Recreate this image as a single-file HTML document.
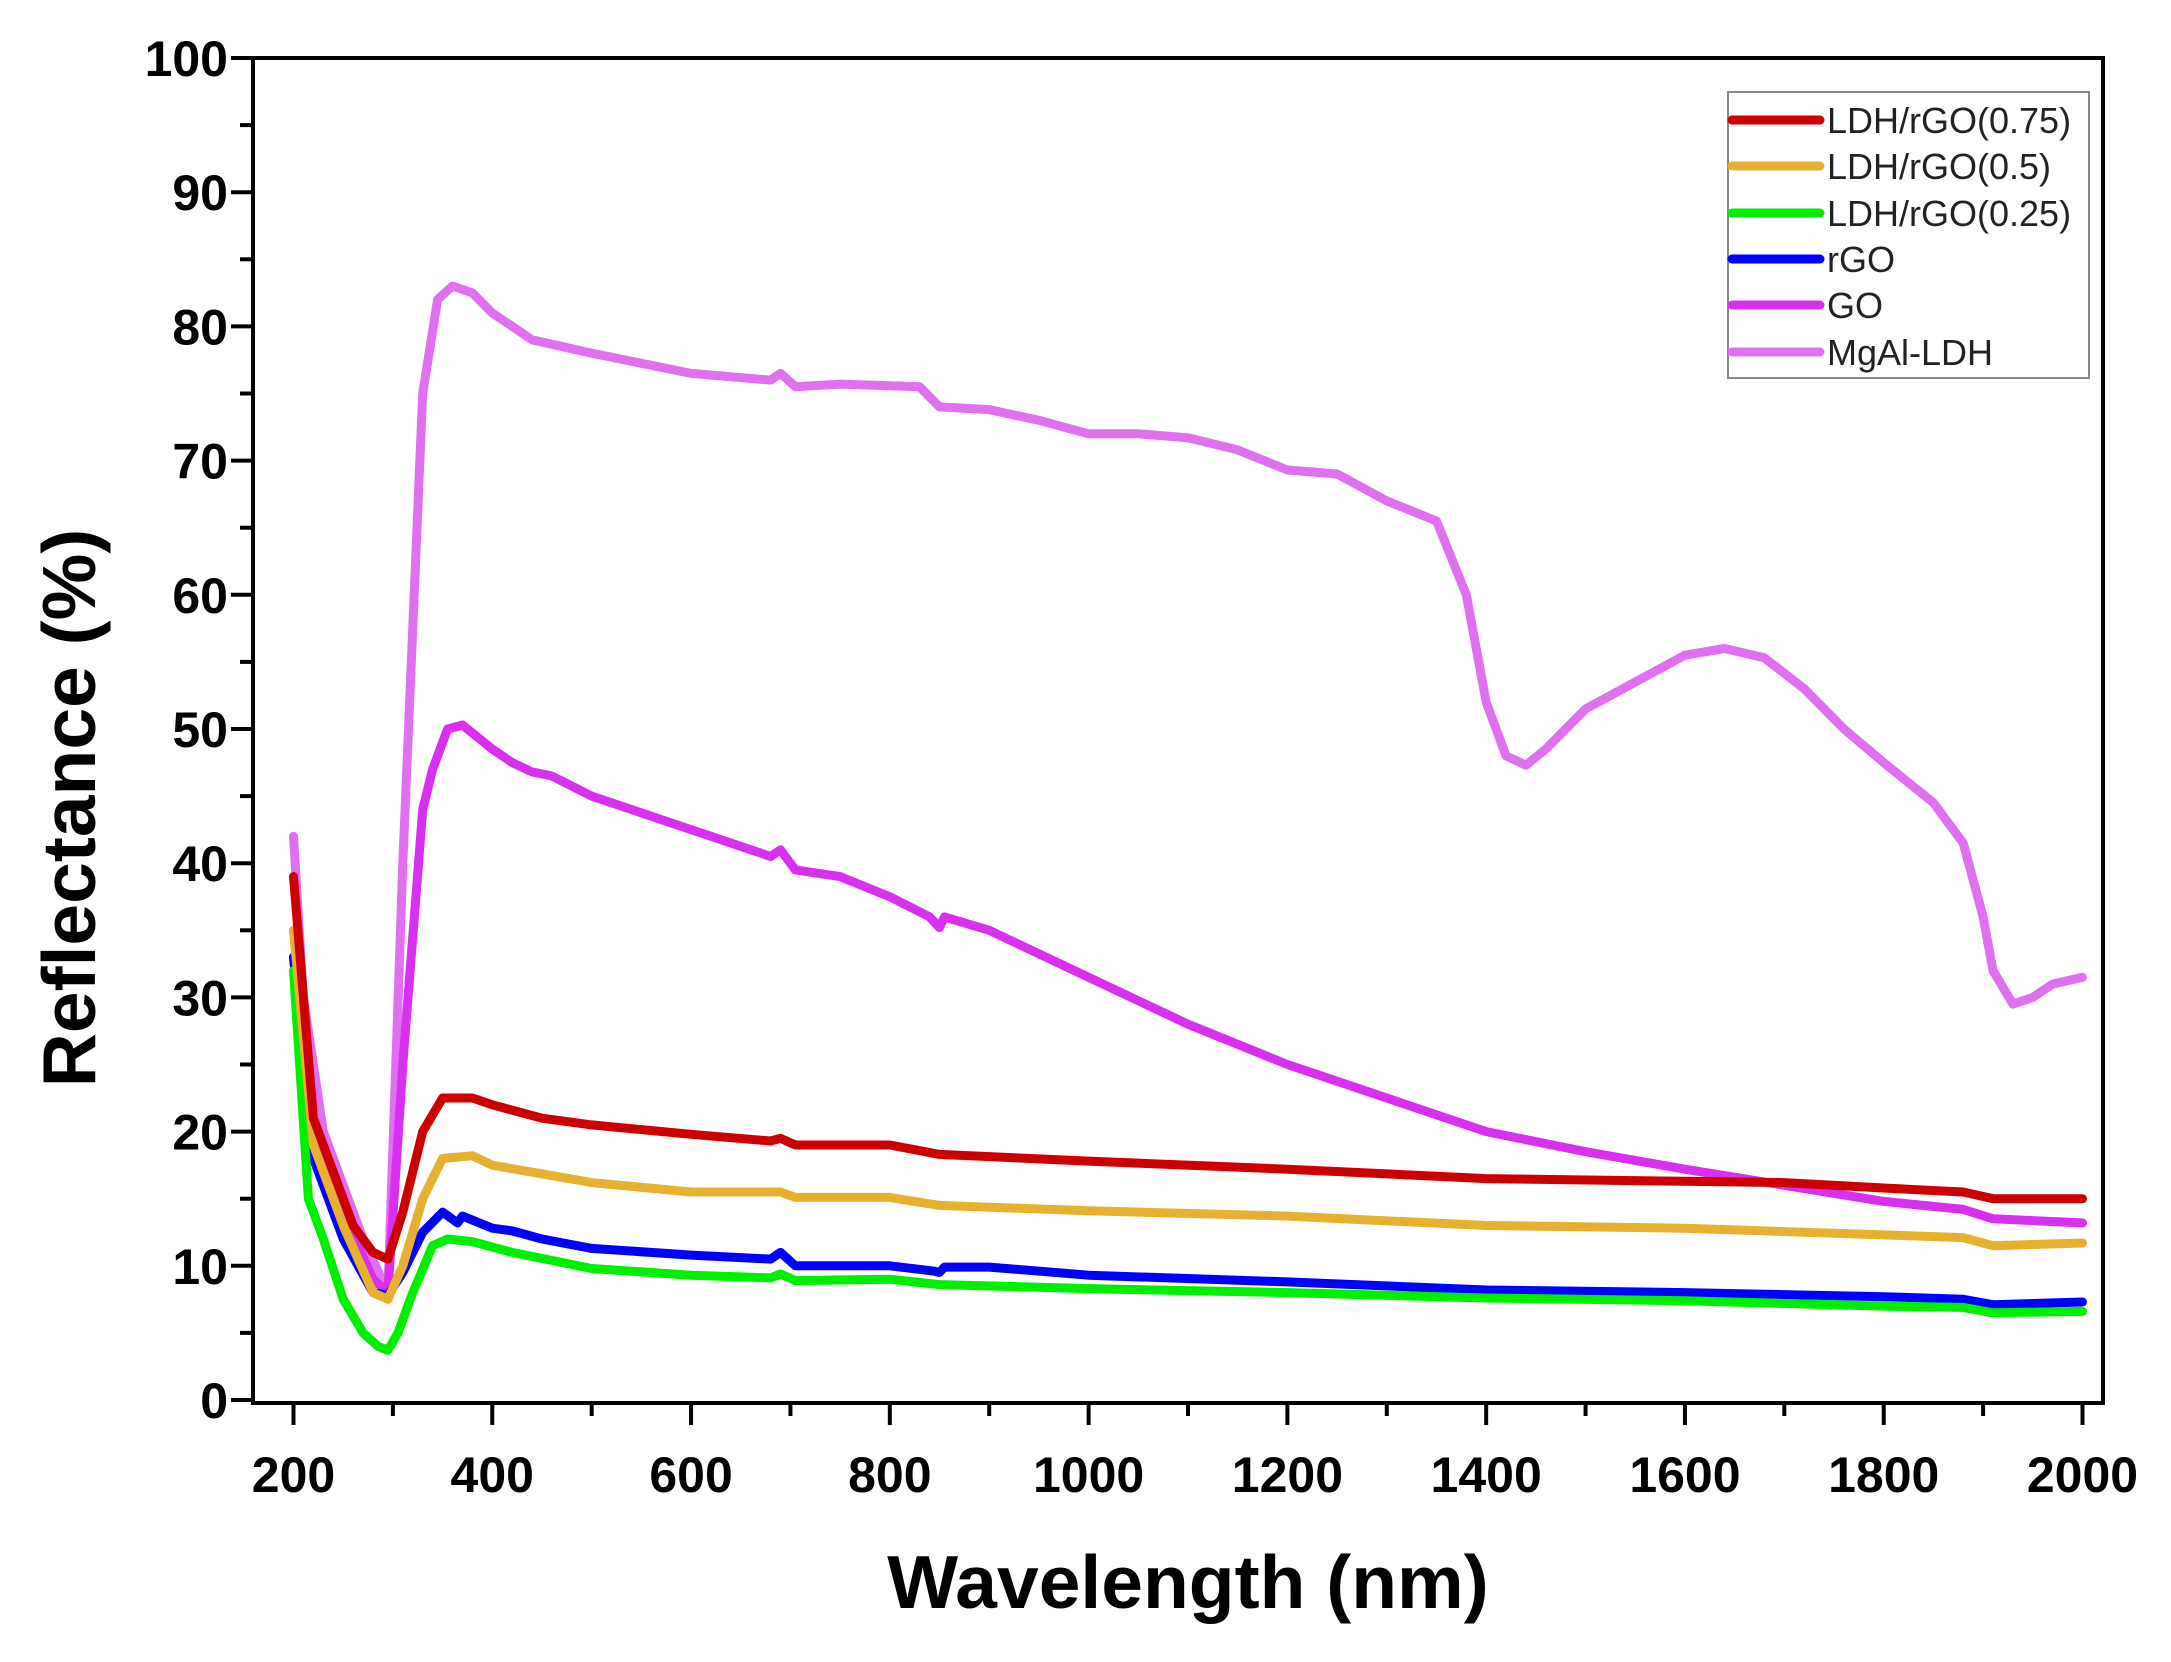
<!DOCTYPE html>
<html><head><meta charset="utf-8"><style>
html,body{margin:0;padding:0;background:#fff;}
svg{display:block;font-family:"Liberation Sans",Arial,sans-serif;}
</style></head><body>
<svg id="chart" width="2171" height="1662" viewBox="0 0 2171 1662" xmlns="http://www.w3.org/2000/svg">
<g id="series"></g>
<g id="axes"></g>
<text x="1188" y="1608" font-size="75" font-weight="bold" text-anchor="middle">Wavelength (nm)</text>
<text transform="translate(95,808) rotate(-90)" font-size="75" font-weight="bold" text-anchor="middle">Reflectance (%)</text>
<g id="legend"></g>
</svg>
<script>
const xTicks = [200,400,600,800,1000,1200,1400,1600,1800,2000];
const yTicks = [0,10,20,30,40,50,60,70,80,90,100];
const seriesNames = ["LDH/rGO(0.75)","LDH/rGO(0.5)","LDH/rGO(0.25)","rGO","GO","MgAl-LDH"];
const seriesColors = ["#cc0000","#e8b030","#00ee00","#0000ff","#d82ff0","#e070f0"];
const wlMgAl = [200,210,230,270,295,310,330,345,360,380,400,420,440,500,600,680,690,705,750,830,850,900,950,1000,1050,1100,1150,1200,1250,1300,1350,1380,1400,1420,1440,1460,1500,1550,1600,1640,1680,1720,1760,1800,1850,1880,1900,1910,1930,1950,1970,2000];
const valMgAl = [42,30,20,12,8,40,75,82,83,82.5,81,80,79,78,76.5,76,76.5,75.5,75.7,75.5,74,73.8,73,72,72,71.7,70.8,69.3,69,67,65.5,60,52,48,47.3,48.5,51.5,53.5,55.5,56,55.3,53,50,47.5,44.5,41.5,36,32,29.5,30,31,31.5];
const wlGO = [200,220,250,280,295,310,330,340,355,370,400,420,440,460,500,600,680,690,705,750,800,840,850,855,900,1000,1100,1200,1300,1400,1500,1600,1700,1800,1880,1910,2000];
const valGO = [33,20,14,9,8,25,44,47,50,50.3,48.5,47.5,46.8,46.5,45,42.5,40.5,41,39.5,39,37.5,36,35.2,36,35,31.5,28,25,22.5,20,18.5,17.2,16,14.8,14.2,13.5,13.2];
const wlRed = [200,210,220,240,260,280,295,310,330,350,380,400,450,500,600,680,690,705,800,850,1000,1200,1400,1600,1700,1800,1880,1910,2000];
const valRed = [39,30,21,17,13,11,10.5,14,20,22.5,22.5,22,21,20.5,19.8,19.3,19.5,19,19,18.3,17.8,17.2,16.5,16.3,16.2,15.8,15.5,15,15];
const wlOrange = [200,220,250,280,295,310,330,350,380,400,500,600,690,705,800,850,1000,1200,1400,1600,1800,1880,1910,2000];
const valOrange = [35,19,13,8,7.5,10,15,18,18.2,17.5,16.2,15.5,15.5,15.1,15.1,14.5,14.1,13.7,13,12.8,12.3,12.1,11.5,11.7];
const wlBlue = [200,220,250,280,295,310,330,350,365,370,400,420,450,500,600,680,690,705,800,845,850,855,900,1000,1200,1400,1600,1800,1880,1910,2000];
const valBlue = [33,18,12,8,7.8,9.5,12.5,14,13.2,13.7,12.8,12.6,12,11.3,10.8,10.5,11,10,10,9.6,9.5,9.9,9.9,9.3,8.8,8.2,8,7.7,7.5,7.1,7.3];
const wlGreen = [200,215,230,250,270,285,295,305,320,340,355,380,420,500,600,680,690,705,800,850,1000,1200,1400,1600,1800,1880,1910,2000];
const valGreen = [32,15,12,7.5,5,4,3.7,5,8,11.5,12,11.8,11,9.8,9.3,9.1,9.4,8.9,9,8.6,8.3,8,7.6,7.4,7,6.9,6.5,6.6];

const NS="http://www.w3.org/2000/svg";
const X0=293.5,X1=2082.5,Y0=1400,Y1=58;
function xs(v){return X0+(v-200)/1800*(X1-X0);}
function ys(v){return Y0+(v-0)/100*(Y1-Y0);}
function mk(tag,attrs,parent){const e=document.createElementNS(NS,tag);for(const k in attrs)e.setAttribute(k,attrs[k]);parent.appendChild(e);return e;}

const sg=document.getElementById('series');
const all=[[wlRed,valRed],[wlOrange,valOrange],[wlGreen,valGreen],[wlBlue,valBlue],[wlGO,valGO],[wlMgAl,valMgAl]];
const slugs=["ldh-rgo-075","ldh-rgo-05","ldh-rgo-025","rgo","go","mgal-ldh"];
for(let i=all.length-1;i>=0;i--){
  const [w,v]=all[i];
  const d=w.map((x,j)=>(j?'L':'M')+xs(x).toFixed(1)+','+ys(v[j]).toFixed(1)).join('');
  const p=mk('path',{d:d,fill:'none',stroke:seriesColors[i],'stroke-width':9,'stroke-linejoin':'round','stroke-linecap':'round'},sg);
  
  
}

const ag=document.getElementById('axes');
const L=253,R=2103,T=58,B=1403;
const frame=mk('rect',{x:L,y:T,width:R-L,height:B-T,fill:'none',stroke:'#000','stroke-width':4},ag);


for(let v=200;v<=2000;v+=100){
  const major=v%200===0;
  mk('line',{x1:xs(v),x2:xs(v),y1:B,y2:B+(major?22:13),stroke:'#000','stroke-width':4},ag);
}
xTicks.forEach(v=>{
  const t=mk('text',{x:xs(v),y:1492,'font-size':50,'font-weight':'bold','text-anchor':'middle'},ag);
  t.textContent=v;
  
  
});
for(let v=0;v<=100;v+=5){
  const major=v%10===0;
  mk('line',{x1:L,x2:L-(major?22:13),y1:ys(v),y2:ys(v),stroke:'#000','stroke-width':4},ag);
}
yTicks.forEach(v=>{
  const t=mk('text',{x:228,y:ys(v)+18,'font-size':50,'font-weight':'bold','text-anchor':'end'},ag);
  t.textContent=v;
  
  
});

const lg=document.getElementById('legend');
const box=mk('rect',{x:1728,y:92,width:361,height:286,fill:'#fff',stroke:'#888','stroke-width':2},lg);


const ly=[120,166,213,259,305,352];
seriesNames.forEach((n,i)=>{
  const g=mk('g',{},lg);
  
  
  mk('line',{x1:1732,x2:1820,y1:ly[i],y2:ly[i],stroke:seriesColors[i],'stroke-width':9,'stroke-linecap':'round'},g);
  const t=mk('text',{x:1827,y:ly[i]+13,'font-size':36,fill:'#222'},g);
  t.textContent=n;
});
</script>
</body></html>
